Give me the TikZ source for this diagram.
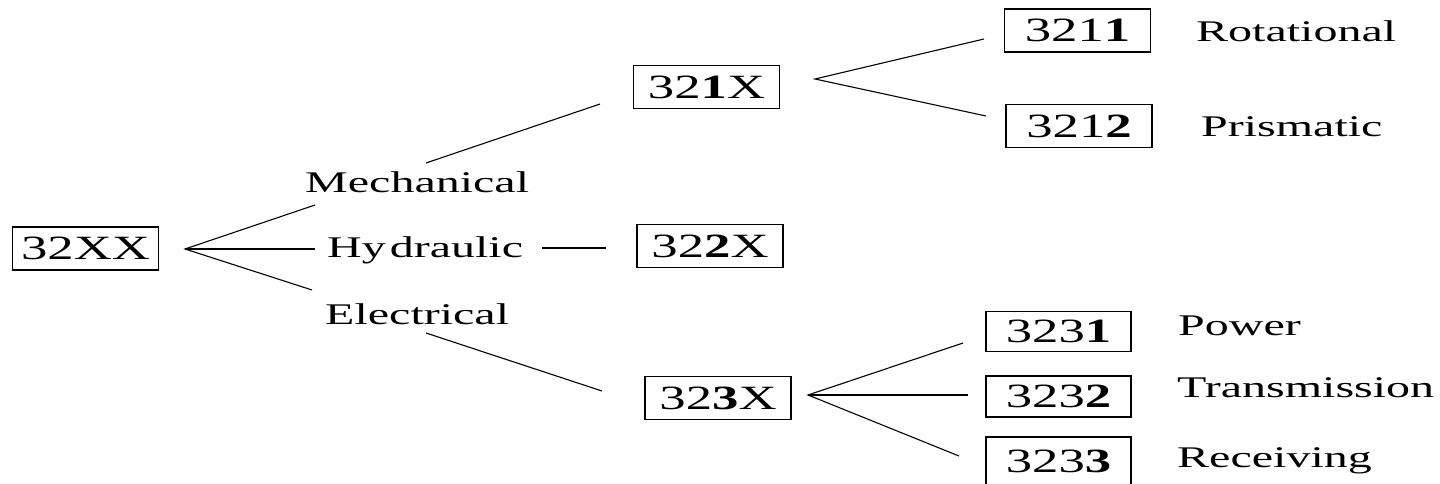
\documentclass[tikz,border=0pt]{standalone}
\usepackage{fontspec}
\setmainfont{Liberation Serif}
\newfontfamily\codefont[FakeStretch=1.55]{Liberation Serif}
\newfontfamily\widefont[FakeStretch=1.6]{Liberation Serif}
\tikzset{
  codebox/.style={draw, line width=1.3pt, inner sep=0pt, minimum width=146pt,
    minimum height=43pt, font=\codefont\fontsize{34}{34}\selectfont},
  label/.style={anchor=base west, inner sep=0pt, font=\widefont\fontsize{30}{30}\selectfont},
  link/.style={line width=1.1pt}
}
\begin{document}
\begin{tikzpicture}[x=1pt,y=-1pt]
\useasboundingbox (0,0) rectangle (1440,484);
\begin{scope}
\clip (0,0) rectangle (1440,484);
% code boxes
\node[codebox] (root) at (85.5,248.5) {32XX};
\node[codebox] (mech) at (706.5,87) {32\textbf{1}X};
\node[codebox] (hyd) at (710,246) {32\textbf{2}X};
\node[codebox] (elec) at (718,398) {32\textbf{3}X};
\node[codebox] (rot) at (1077.5,30.5) {321\textbf{1}};
\node[codebox] (pri) at (1079,126) {321\textbf{2}};
\node[codebox, minimum width=145pt, minimum height=40pt] (pow) at (1058.5,331.5) {323\textbf{1}};
\node[codebox, minimum width=145pt, minimum height=41pt] (tra) at (1058.5,396.5) {323\textbf{2}};
\node[codebox, minimum width=145pt, minimum height=48pt] (rec) at (1058.5,461) {323\textbf{3}};
\end{scope}
% category labels
\node[label] (tmech) at (305,192) {Mechanical};
\node[label] (thyd) at (327,257) {Hy\kern4pt draulic};
\node[label] (telec) at (325,324) {Electrical};
% leaf labels
\node[label] (trot) at (1196,42) {Rotational};
\node[label] (tpri) at (1201,137) {Prismatic};
\node[label] (tpow) at (1178,335) {Power};
\node[label] (ttra) at (1177,397) {Transmission};
\node[label] (trec) at (1177,467) {Receiving};
% branch points
\coordinate (f0) at (185,249);
\coordinate (f0a) at (315,205);
\coordinate (f0b) at (315,249);
\coordinate (f0c) at (312,290);
\coordinate (m0) at (426,163);
\coordinate (m1) at (600,104);
\coordinate (h0) at (542,248);
\coordinate (h1) at (606,248);
\coordinate (e0) at (426,333);
\coordinate (e1) at (602,391);
\coordinate (f1) at (815,79);
\coordinate (f1a) at (984,39);
\coordinate (f1b) at (986,116);
\coordinate (f3) at (808,395);
\coordinate (f3a) at (963,343);
\coordinate (f3b) at (968,395);
\coordinate (f3c) at (959,456);
% connectors
\draw[link] (f0a) -- (f0) -- (f0c);
\draw[link] (f0) -- (f0b);
\draw[link] (m0) -- (m1);
\draw[link] (h0) -- (h1);
\draw[link] (e0) -- (e1);
\draw[link] (f1a) -- (f1) -- (f1b);
\draw[link] (f3a) -- (f3) -- (f3c);
\draw[link] (f3) -- (f3b);
\end{tikzpicture}
\end{document}
